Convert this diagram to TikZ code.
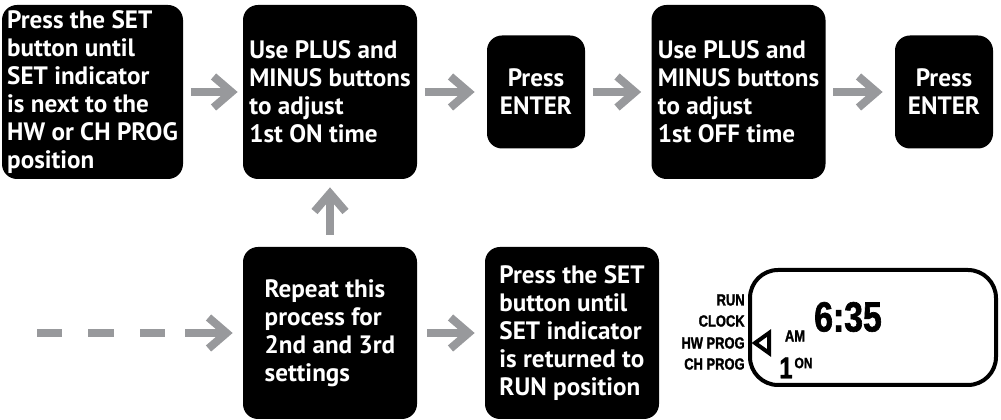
\documentclass[tikz,border=0pt]{standalone}
\usepackage{fontspec}
\setmainfont{PT Sans}
\newfontfamily\lcdfont[FakeStretch=0.8, BoldFeatures={FakeBold=1.5}]{Liberation Sans}
\usetikzlibrary{arrows.meta}
\definecolor{arrowgray}{RGB}{152,153,156}

\tikzset{
  stepbox/.style={fill=black, text=white, rounded corners=0.3cm, inner sep=0pt,
    font=\fontsize{14.3}{16}\selectfont\bfseries, align=left,
    minimum width=3.48cm, minimum height=3.48cm},
  enterbox/.style={stepbox, align=center, minimum width=1.96cm, minimum height=2.26cm},
  flow/.style={draw=arrowgray, line width=0.16cm, -{Straight Barb[length=0.36cm,width=0.62cm]},
    shorten <=0.15cm, shorten >=0.2cm},
  lcdlabel/.style={font=\lcdfont\bfseries\fontsize{9.2}{9.5}\selectfont, anchor=east, inner sep=0pt},
  lcdtext/.style={font=\lcdfont\bfseries\fontsize{#1}{#1}\selectfont, inner sep=0pt}
}

\begin{document}
\begin{tikzpicture}

\useasboundingbox (0,0) rectangle (20.02,8.4);

%% Top row of steps
\node [stepbox, minimum width=3.62cm] (setpos) at (1.85,6.56)
  {Press the SET\\button until\\SET indicator\\is next to the\\HW or CH PROG\\position};
\node [stepbox] (adjon) at (6.6,6.56)
  {Use PLUS and\\MINUS buttons\\to adjust\\1st ON time};
\node [enterbox] (enter1) at (10.72,6.56) {Press\\ENTER};
\node [stepbox] (adjoff) at (14.77,6.56)
  {Use PLUS and\\MINUS buttons\\to adjust\\1st OFF time};
\node [enterbox] (enter2) at (18.88,6.56) {Press\\ENTER};

\draw [flow, shorten >=0.1cm] (setpos) -- (adjon);
\draw [flow, shorten >=0.24cm] (adjon) -- (enter1);
\draw [flow] (enter1) -- (adjoff);
\draw [flow, shorten >=0.24cm] (adjoff) -- (enter2);

%% Bottom row of steps
\node [stepbox, minimum height=3.44cm] (repeat) at (6.6,1.74)
  {Repeat this\\process for\\2nd and 3rd\\settings};
\node [stepbox, minimum height=3.44cm] (setrun) at (11.44,1.74)
  {Press the SET\\button until\\SET indicator\\is returned to\\RUN position};
\coordinate (loop) at (0.74,1.74);

\draw [flow, shorten <=0pt, dash pattern=on 0.5cm off 0.52cm on 0.52cm off 0.52cm on 0.5cm off 0.4cm on 4cm]
  (loop) -- (repeat);
\draw [flow, shorten <=0.24cm, shorten >=0.16cm] (repeat) -- (adjon);
\draw [flow, shorten <=0.2cm] (repeat) -- (setrun);

%% Display
\node [draw, line width=0.08cm, rounded corners=0.56cm, minimum width=4.92cm,
  minimum height=2.3cm] (lcd) at (17.46,1.85) {};
\node [lcdlabel] (run) at (14.9,2.4) {RUN};
\node [lcdlabel] (clock) at (14.9,1.98) {CLOCK};
\node [lcdlabel] (hwprog) at (14.9,1.54) {HW PROG};
\node [lcdlabel] (chprog) at (14.9,1.12) {CH PROG};
\draw [line width=0.08cm, line join=miter] (15.1,1.54) -- (15.38,1.74) -- (15.38,1.34) -- cycle;
\node [lcdtext=24] (time) at (16.96,2.06) {6:35};
\node [lcdtext=9.2] (am) at (15.9,1.68) {AM};
\node [lcdtext=17] (prognum) at (15.72,1.04) {1};
\node [lcdtext=8.5] (onoff) at (16.07,1.14) {ON};

\end{tikzpicture}
\end{document}
